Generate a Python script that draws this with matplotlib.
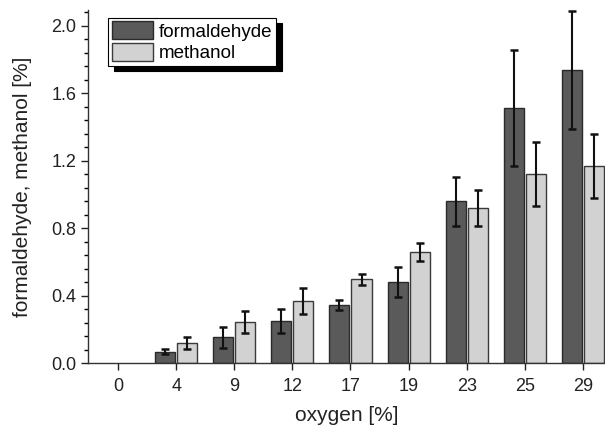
import matplotlib
matplotlib.use("Agg")
import matplotlib.pyplot as plt
import numpy as np

plt.rcParams['font.family'] = ['Liberation Sans', 'DejaVu Sans']

categories = ['0', '4', '9', '12', '17', '19', '23', '25', '29']
formaldehyde = [0.0, 0.067, 0.152, 0.249, 0.346, 0.479, 0.96, 1.513, 1.739]
formaldehyde_err = [0.0, 0.014, 0.06, 0.07, 0.03, 0.09, 0.145, 0.345, 0.35]
methanol = [0.0, 0.12, 0.245, 0.368, 0.497, 0.659, 0.92, 1.123, 1.169]
methanol_err = [0.0, 0.035, 0.066, 0.078, 0.032, 0.053, 0.105, 0.19, 0.19]

fig = plt.figure(figsize=(6.05, 4.29), dpi=100)
ax = fig.add_axes([0.1455, 0.1538, 0.8545, 0.823])

x = np.arange(len(categories))
w = 0.345
off = 0.19
mask = np.array(formaldehyde) > 0
ebkw = dict(ecolor='#111111', elinewidth=1.5, capsize=3, capthick=1.8)
ax.bar(x[mask] - off, np.array(formaldehyde)[mask], w, yerr=np.array(formaldehyde_err)[mask],
       color='#5a5a5a', edgecolor='#2a2a2a', linewidth=1.0, label='formaldehyde', error_kw=ebkw)
ax.bar(x[mask] + off, np.array(methanol)[mask], w, yerr=np.array(methanol_err)[mask],
       color='#d2d2d2', edgecolor='#3a3a3a', linewidth=1.0, label='methanol', error_kw=ebkw)

ax.set_xlim(-0.516, 8.38)
ax.set_ylim(0, 2.095)
ax.set_xticks(x)
ax.set_xticklabels(categories)
ax.set_yticks([0.0, 0.4, 0.8, 1.2, 1.6, 2.0])
ax.set_yticklabels(['0.0', '0.4', '0.8', '1.2', '1.6', '2.0'])
ax.set_yticks(np.arange(0, 2.09, 0.08), minor=True)
ax.tick_params(axis='both', labelsize=13, direction='out', length=5, width=1.0, colors='#222222')
ax.tick_params(axis='x', pad=6)
ax.tick_params(axis='y', which='minor', length=3, width=1.0)
ax.tick_params(axis='x', which='minor', length=0)
for s in ['top', 'right']:
    ax.spines[s].set_visible(False)
for s in ['left', 'bottom']:
    ax.spines[s].set_color('#333333')
    ax.spines[s].set_linewidth(1.0)

ax.set_xlabel('oxygen [%]', fontsize=15, color='#222222', labelpad=8)
ax.set_ylabel('formaldehyde, methanol [%]', fontsize=15, color='#222222', labelpad=14)

leg = ax.legend(loc='upper left', bbox_to_anchor=(0.039, 0.978), fancybox=False,
                edgecolor='black', framealpha=1, fontsize=13.5,
                handlelength=2.2, handleheight=1.1, handletextpad=0.3,
                borderpad=0.2, labelspacing=0.1, borderaxespad=0,
                shadow={'ox': 4, 'oy': -4, 'color': 'black', 'alpha': 1})
leg.get_frame().set_linewidth(0.8)

fig.savefig('out.png', dpi=100)
